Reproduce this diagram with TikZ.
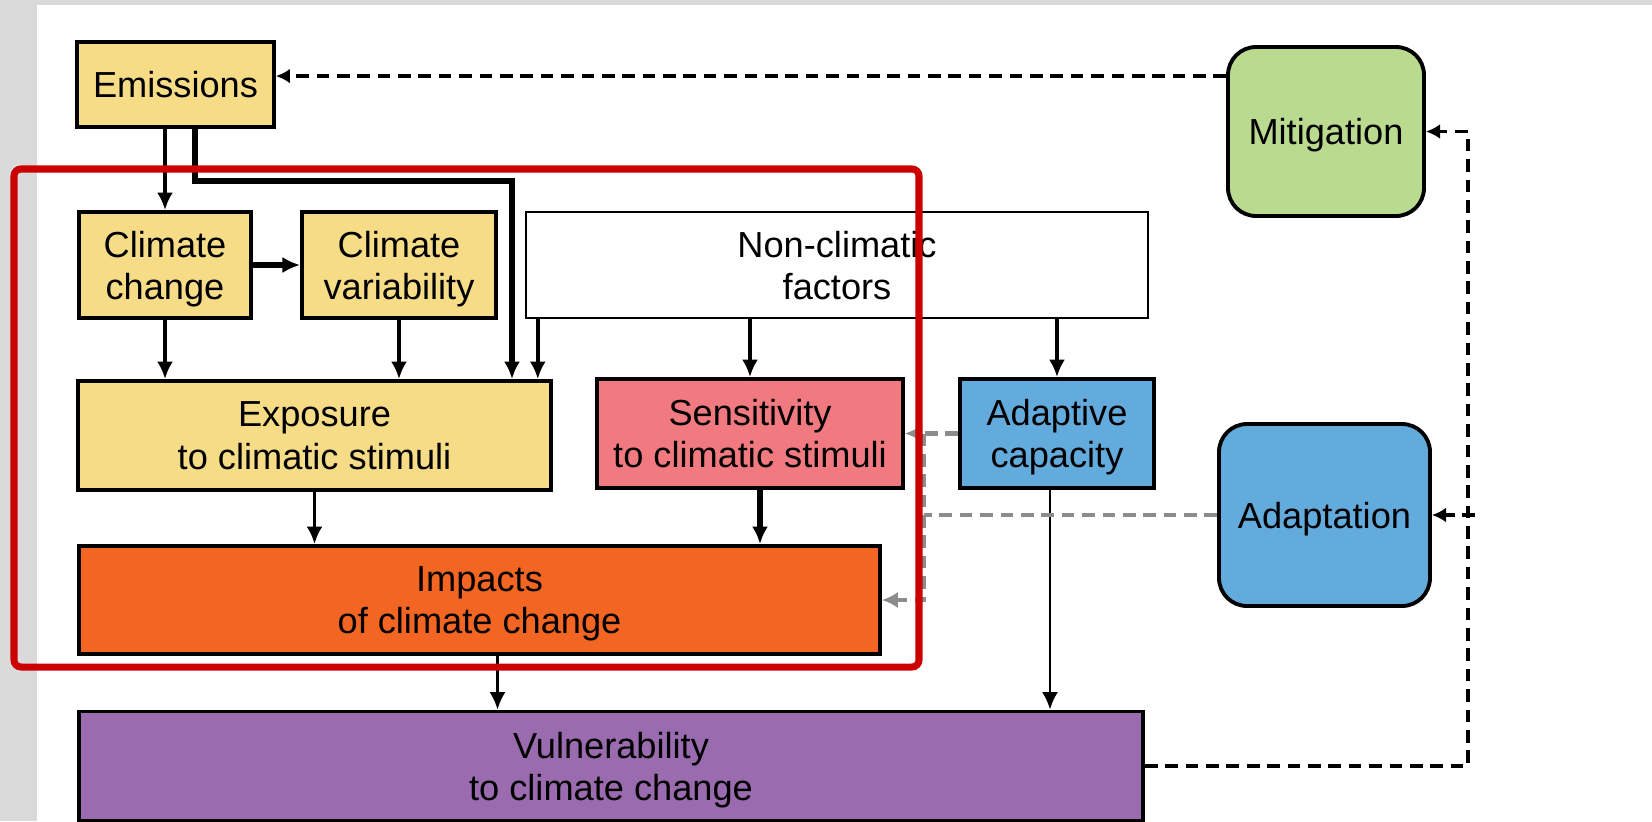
\documentclass[tikz,border=0pt]{standalone}
\usepackage{fontspec}
\setmainfont{Liberation Sans}
\usetikzlibrary{arrows.meta}
\definecolor{boxyellow}{HTML}{F7DC88}
\definecolor{boxpink}{HTML}{F07A7F}
\definecolor{boxblue}{HTML}{63AADD}
\definecolor{boxorange}{HTML}{F26522}
\definecolor{boxpurple}{HTML}{9A6BAE}
\definecolor{boxgreen}{HTML}{B9DA8F}
\definecolor{framered}{HTML}{CC0000}
\definecolor{dashgray}{HTML}{8C8C8C}
\definecolor{bggray}{HTML}{DADADA}

\begin{document}
\begin{tikzpicture}[x=0.1mm,y=-0.1mm,
  font=\fontsize{10.3}{12}\selectfont,
  box/.style={draw=black,line width=1.1pt,align=center,inner sep=0pt,text depth=0pt},
  roundbox/.style={box,rounded corners=0.28cm},
  arr/.style={line width=1.05pt,-{Latex[length=5pt,width=4.6pt]}},
  dasharr/.style={line width=1.1pt,dash pattern=on 3.6pt off 2.2pt,-{Latex[length=4pt,width=4.2pt]}},
  graydash/.style={draw=dashgray,line width=1.4pt,dash pattern=on 3.6pt off 2.2pt},
  grayarr/.style={graydash,-{Latex[length=4.5pt,width=4.6pt]}}]
\useasboundingbox (0,0) rectangle (1652,821);
\fill[bggray] (0,0) rectangle (1652,821);
\fill[white] (37,5) rectangle (1652,821);

\node[box,fill=boxyellow,minimum width=1.97cm,minimum height=0.85cm] (emis) at (175.5,84.5) {Emissions};
\node[box,fill=boxyellow,minimum width=1.72cm,minimum height=1.06cm] (cc) at (165,265) {Climate\\change};
\node[box,fill=boxyellow,minimum width=1.94cm,minimum height=1.06cm] (cv) at (399,265) {Climate\\variability};
\node[box,line width=0.7pt,minimum width=6.22cm,minimum height=1.06cm] (ncf) at (837,265) {Non-climatic\\factors};
\node[box,fill=boxyellow,minimum width=4.73cm,minimum height=1.09cm] (expo) at (314.5,435.5) {Exposure\\to climatic stimuli};
\node[box,fill=boxpink,minimum width=3.06cm,minimum height=1.09cm] (sens) at (750,433.5) {Sensitivity\\to climatic stimuli};
\node[box,fill=boxblue,minimum width=1.94cm,minimum height=1.09cm] (adc) at (1057,433.5) {Adaptive\\capacity};
\node[box,fill=boxorange,minimum width=8.01cm,minimum height=1.08cm] (imp) at (479.5,600) {Impacts\\of climate change};
\node[box,fill=boxpurple,minimum width=10.64cm,minimum height=1.09cm] (vul) at (611,766) {Vulnerability\\to climate change};
\node[roundbox,fill=boxgreen,minimum width=1.96cm,minimum height=1.69cm] (mit) at (1326,131.5) {Mitigation};
\node[roundbox,fill=boxblue,minimum width=2.11cm,minimum height=1.82cm] (adp) at (1324.5,515) {Adaptation};

\coordinate (bend) at (512,181);
\coordinate (graybus) at (924,0);
\coordinate (loop) at (1468,0);

\draw[arr] (emis.south -| cc.north) -- (cc.north);
\draw[arr,line width=1.6pt] ([xshift=0.195cm]emis.south) |- (bend) -- (bend |- expo.north);
\draw[arr,line width=1.8pt] (cc.east) -- (cv.west);
\draw[arr] (cc.south) -- (cc.south |- expo.north);
\draw[arr] (cv.south) -- (cv.south |- expo.north);
\draw[arr] ([xshift=0.13cm]ncf.south west) -- ([xshift=0.13cm]ncf.south west |- expo.north);
\draw[arr] (sens.north |- ncf.south) -- (sens.north);
\draw[arr] (adc.north |- ncf.south) -- (adc.north);
\draw[arr] (expo.south) -- (expo.south |- imp.north);
\draw[arr,line width=1.5pt] ([xshift=0.1cm]sens.south) -- ([xshift=0.1cm]sens.south |- imp.north);
\draw[arr,line width=0.75pt] ([xshift=0.18cm]imp.south) -- ([xshift=0.18cm]imp.south |- vul.north);
\draw[arr,line width=0.75pt] ([xshift=-0.07cm]adc.south) -- ([xshift=-0.07cm]adc.south |- vul.north);

\draw[grayarr] (adc.west) -- (sens.east);
\draw[grayarr] (sens.east -| graybus) |- (imp.east);
\draw[graydash] (adp.west) -- (adp.west -| graybus);

\draw[dasharr] ([yshift=-0.31cm]mit.north west) -- ([yshift=-0.31cm]mit.north west -| emis.east);
\draw[dasharr] (vul.east) -| (loop |- mit.east) -- (mit.east);
\draw[dasharr] ([xshift=0.07cm]loop |- adp.east) -- (adp.east);

\draw[framered,line width=2pt,rounded corners=2pt] (14,169) rectangle (919,667);
\end{tikzpicture}
\end{document}
